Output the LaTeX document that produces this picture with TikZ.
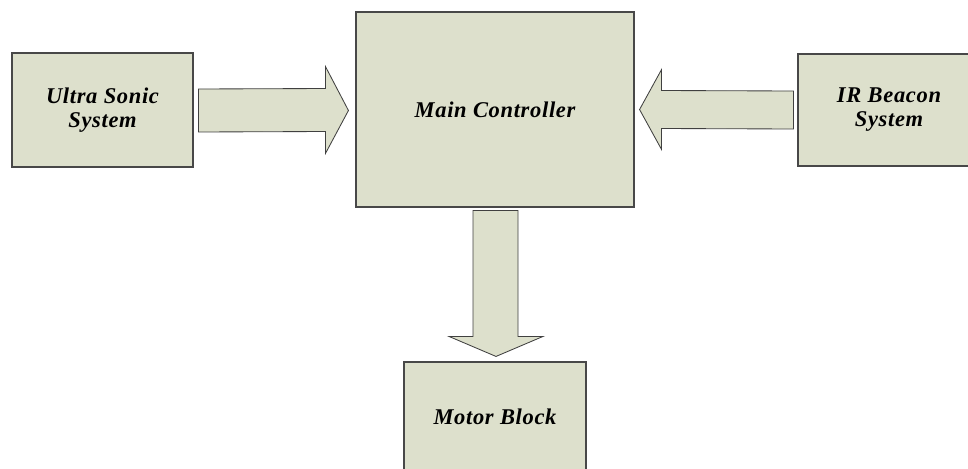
\documentclass[tikz,border=0pt]{standalone}
\usepackage{fontspec}
\setmainfont{Liberation Serif}
\usepackage{tikz}
\usetikzlibrary{calc}
\usepackage{xcolor}
\definecolor{blockfill}{RGB}{221,224,204}
\definecolor{blockline}{RGB}{72,72,72}

\begin{document}
\begin{tikzpicture}[x=0.025cm,y=-0.025cm,line join=miter,
  block/.style={draw=blockline,line width=0.8pt,fill=blockfill,inner sep=0pt,align=center,
    font=\fontsize{16}{17}\selectfont\bfseries\itshape\addfontfeatures{LetterSpace=3}},
  fat/.style={draw=black!75,line width=0.6pt,fill=blockfill}]
\useasboundingbox (0,0) rectangle (968,468);
\clip (0,0) rectangle (968,468);
\node[block,minimum width=181*0.025cm,minimum height=114*0.025cm] (us) at (102.5,110) {Ultra Sonic\\System};
\node[block,minimum width=278*0.025cm,minimum height=195*0.025cm] (mc) at (495,109.5) {Main Controller};
\node[block,minimum width=182*0.025cm,minimum height=112*0.025cm] (ir) at (889,110) {IR Beacon\\System};
\node[block,minimum width=182*0.025cm,minimum height=110*0.025cm] (mb) at (495,417) {Motor Block};
% block arrows
\draw[fat] ($(us.east)+(5,-21)$) -- ($(mc.west)+(-30,-21)$) -- ($(mc.west)+(-30,-43)$)
  -- ($(mc.west)+(-7,1)$) -- ($(mc.west)+(-30,44)$) -- ($(mc.west)+(-30,22)$)
  -- ($(us.east)+(5,22)$) -- cycle;
\draw[fat] ($(ir.west)+(-4,-19)$) -- ($(mc.east)+(27,-19)$) -- ($(mc.east)+(27,-40)$)
  -- ($(mc.east)+(5,0)$) -- ($(mc.east)+(27,40)$) -- ($(mc.east)+(27,19)$)
  -- ($(ir.west)+(-4,19)$) -- cycle;
\draw[fat] ($(mc.south)+(-22,3)$) -- ($(mc.south)+(23,3)$) -- ($(mb.north)+(23,-25)$)
  -- ($(mb.north)+(48,-25)$) -- ($(mb.north)+(1,-5)$) -- ($(mb.north)+(-46,-25)$)
  -- ($(mb.north)+(-22,-25)$) -- cycle;
\end{tikzpicture}
\end{document}
